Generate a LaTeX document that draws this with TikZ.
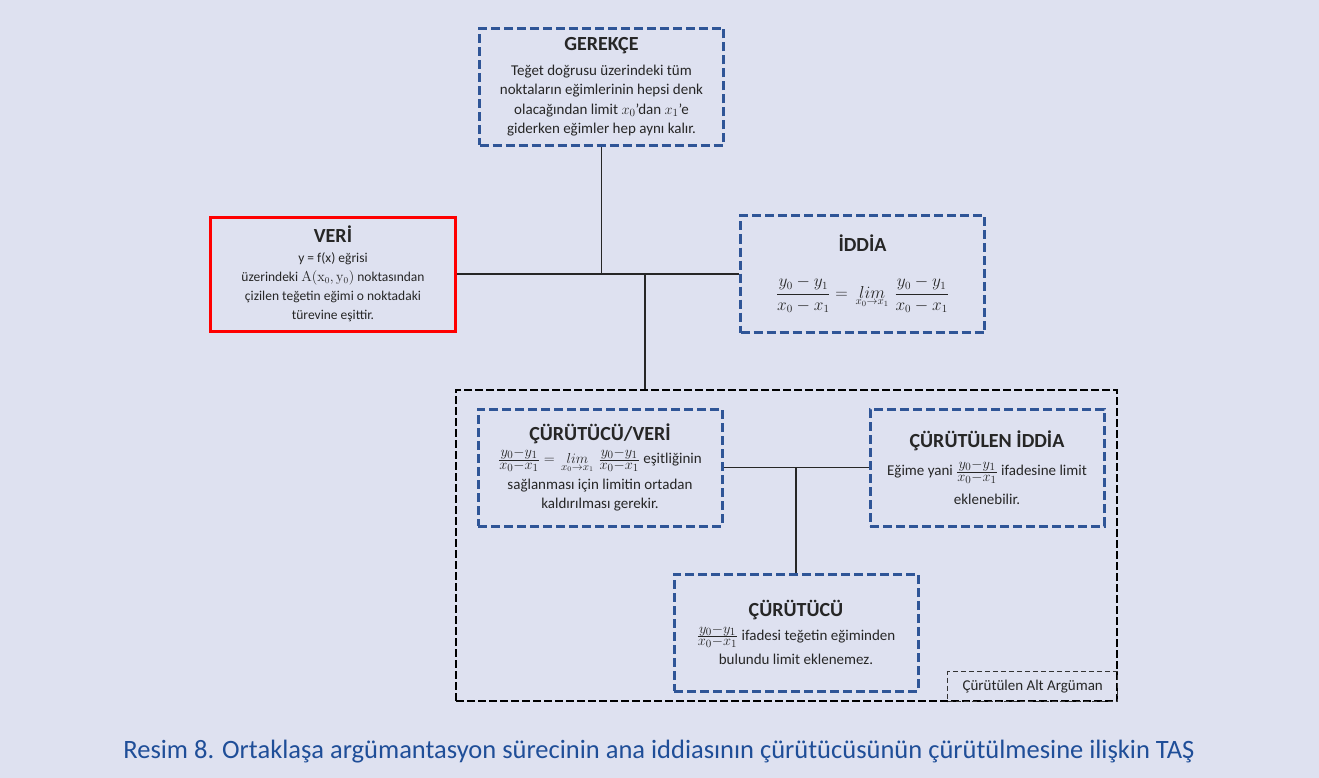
\documentclass[tikz,border=0pt]{standalone}
\usepackage[no-math]{fontspec}
\setmainfont{Carlito}
\definecolor{tasblue}{RGB}{47,85,151}
\definecolor{tasred}{RGB}{255,0,0}
\definecolor{tasback}{RGB}{222,225,240}
\definecolor{tascaption}{RGB}{31,78,152}
\newcommand{\tastitle}[1]{{\bfseries\fontsize{20}{22}\selectfont #1}}
\newcommand{\tasfrac}[2]{\frac{\textstyle #1}{\textstyle #2}}
\newcommand{\taslim}{\,\mathop{lim}\limits_{x_0\to x_1}\,}

\begin{document}
\begin{tikzpicture}[x=1pt,y=-1pt]
    % Define styles
    \tikzstyle{claim} = [draw=tasblue, line width=3pt, dash pattern=on 9pt off 4pt, align=center, text=black!85, minimum width=244pt, minimum height=117pt, font=\fontsize{15}{19.5}\selectfont]
    \tikzstyle{datum} = [draw=tasred, line width=3pt, align=center, text=black!85, minimum width=245pt, minimum height=114pt, font=\fontsize{13.5}{19.2}\selectfont]
    \tikzstyle{subarg} = [draw=black, line width=2.5pt, dash pattern=on 8pt off 3pt, minimum width=661pt, minimum height=311pt]
    \tikzstyle{sublabel} = [draw=black!80, line width=1.1pt, dash pattern=on 5pt off 3pt, minimum width=170pt, minimum height=30pt, text=black!85, font=\fontsize{15}{17}\selectfont]
    \tikzstyle{link} = [line width=1.3pt, black!85]

    % Background and margins
    \fill [tasback] (0,0) rectangle (1319,778);

    % Create nodes of the main argument
    \node (gerekce) [claim] at (601.5,87) {\tastitle{GEREKÇE}\\[5pt]
        Teğet doğrusu üzerindeki tüm\\
        noktaların eğimlerinin hepsi denk\\
        olacağından limit $x_0$’dan $x_1$’e\\
        giderken eğimler hep aynı kalır.};
    \node (veri) [datum] at (333,274) {\tastitle{VERİ}\\
        y = f(x) eğrisi\\
        üzerindeki $\mathrm{A}(\mathrm{x}_0,\mathrm{y}_0)$ noktasından\\
        çizilen teğetin eğimi o noktadaki\\
        türevine eşittir.};
    \node (iddia) [claim] at (862.5,274) {\tastitle{İDDİA}\\[24pt]
        {\fontsize{16}{19}\selectfont$\displaystyle \frac{y_0-y_1}{x_0-x_1}=\taslim\frac{y_0-y_1}{x_0-x_1}$}};

    % Sub-argument
    \node (alt) [subarg] at (786.5,545.5) {};
    \node (altlabel) [sublabel, anchor=south east] at (alt.south east) {Çürütülen Alt Argüman};
    \node (cveri) [claim] at (600,467.5) {\tastitle{ÇÜRÜTÜCÜ/VERİ}\\[4pt]
        $\tasfrac{y_0{-}y_1}{x_0{-}x_1}=\taslim\tasfrac{y_0{-}y_1}{x_0{-}x_1}$ eşitliğinin\\[6pt]
        sağlanması için limitin ortadan\\
        kaldırılması gerekir.};
    \node (ciddia) [claim, minimum width=234pt] at (987,467.5) {\tastitle{ÇÜRÜTÜLEN İDDİA}\\[9pt]
        Eğime yani $\tasfrac{y_0{-}y_1}{x_0{-}x_1}$ ifadesine limit\\[9pt]
        eklenebilir.};
    \node (curutucu) [claim] at (796,632.5) {\tastitle{ÇÜRÜTÜCÜ}\\[4pt]
        $\tasfrac{y_0{-}y_1}{x_0{-}x_1}$ ifadesi teğetin eğiminden\\[5pt]
        bulundu limit eklenemez.};

    % Caption
    \node (caption) [anchor=base, text=tascaption, font=\fontsize{26.5}{30}\selectfont] at (659,758) {Resim 8. Ortaklaşa argümantasyon sürecinin ana iddiasının çürütücüsünün çürütülmesine ilişkin TAŞ};

    % Draw connectors
    \coordinate (j1) at (645,274);
    \draw [link] (veri.east) -- (iddia.west);
    \draw [link] (gerekce.south) -- (gerekce.south |- veri.east);
    \draw [link] (j1) -- (j1 |- alt.north);
    \draw [link] (cveri.east) -- (ciddia.west);
    \draw [link] (curutucu.north) -- (curutucu.north |- cveri.east);
\end{tikzpicture}
\end{document}
